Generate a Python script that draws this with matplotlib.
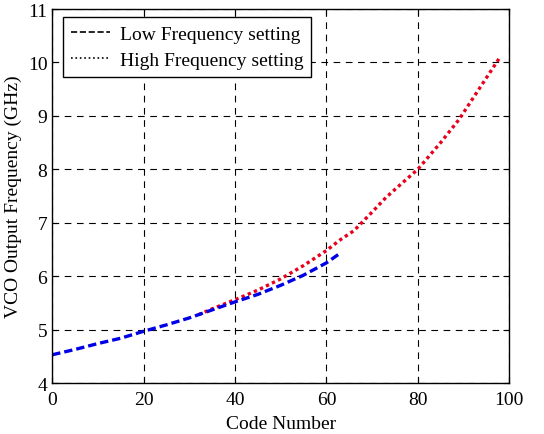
import matplotlib
matplotlib.use("Agg")
import matplotlib.pyplot as plt
from matplotlib.lines import Line2D

plt.rcParams['font.family'] = ['Liberation Serif', 'DejaVu Serif']

# Low frequency setting (codes 0..63)
low_code = [0, 5, 10, 15, 20, 25, 30, 35, 40, 45, 50, 55, 60, 63]
low_freq = [4.53, 4.63, 4.74, 4.84, 4.97, 5.09, 5.22, 5.37, 5.52, 5.66, 5.83, 6.02, 6.25, 6.43]

# High frequency setting (codes 32..98)
high_code = [32, 35, 40, 45, 50, 55, 60, 63, 66, 70, 73, 76, 80, 85, 89, 93, 98]
high_freq = [5.28, 5.39, 5.56, 5.74, 5.95, 6.2, 6.48, 6.68, 6.85, 7.2, 7.47, 7.7, 8.0, 8.5, 8.93, 9.45, 10.1]

fig = plt.figure(figsize=(5.44, 4.35), dpi=100)
ax = fig.add_axes([0.096, 0.117, 0.84, 0.86])

ax.plot(high_code, high_freq, color='#e8001c', linestyle=':', linewidth=2.4, dashes=(1, 1))
ax.plot(low_code, low_freq, color='#0000e6', linestyle='--', linewidth=2.4, dashes=(2.5, 1.2))

ax.set_xlim(0, 100)
ax.set_ylim(4, 11)
ax.set_xticks(range(0, 101, 20))
ax.set_yticks(range(4, 12))
ax.grid(True, color='black', linestyle=(0, (6, 5)), linewidth=0.8)
ax.tick_params(direction='in', top=True, right=True, labelsize=14, length=4)
ax.tick_params(axis='x', pad=6)
for s in ax.spines.values():
    s.set_linewidth(1.0)

ax.set_xlabel('Code Number', fontsize=14, labelpad=5)
ax.set_ylabel('VCO Output Frequency (GHz)', fontsize=14, labelpad=4)

# legend shows black line styles
handles = [Line2D([], [], color='black', linestyle='--', linewidth=1.2),
           Line2D([], [], color='black', linestyle=':', linewidth=1.2)]
leg = ax.legend(handles, ['Low Frequency setting', 'High Frequency setting'],
                loc='upper left', bbox_to_anchor=(0.024, 0.978), fontsize=14,
                fancybox=False, framealpha=1, edgecolor='black',
                handlelength=2.0, handletextpad=0.5, borderpad=0.4,
                labelspacing=0.45, borderaxespad=0)
leg.get_frame().set_linewidth(1.0)

fig.savefig('out.png', dpi=100)
